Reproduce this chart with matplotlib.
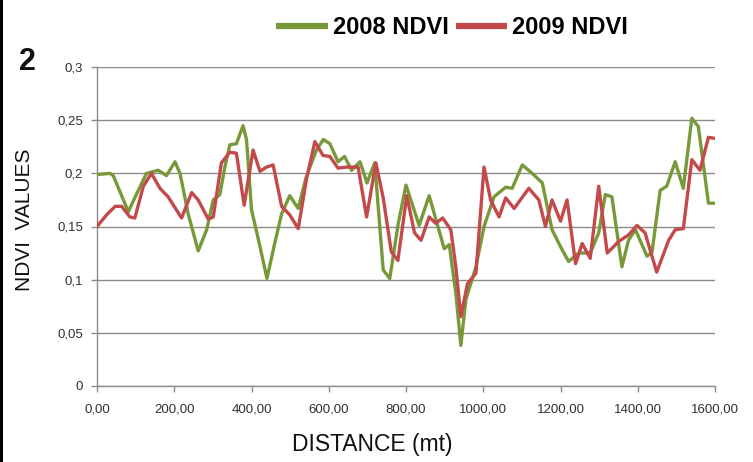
import matplotlib
matplotlib.use("Agg")
import matplotlib.pyplot as plt
from matplotlib.patches import Rectangle
from matplotlib.lines import Line2D
from matplotlib.ticker import FuncFormatter

# 2008 NDVI (distance in m, NDVI value)
dist_2008 = [0, 34, 42, 81, 103, 128, 158, 180, 202, 215, 236, 262, 284, 301, 318, 331,
             344, 361, 378, 387, 400, 422, 440, 460, 478, 499, 521, 542, 568, 586, 603,
             624, 641, 659, 681, 699, 719, 741, 758, 780, 800, 834, 860, 899, 912, 929,
             942, 955, 981, 1002, 1028, 1058, 1075, 1101, 1127, 1153, 1178, 1200, 1221,
             1247, 1277, 1299, 1316, 1333, 1359, 1376, 1394, 1424, 1437, 1458, 1475,
             1497, 1518, 1540, 1557, 1583, 1600]
ndvi_2008 = [0.199, 0.200, 0.198, 0.164, 0.181, 0.200, 0.203, 0.198, 0.211, 0.200, 0.162,
             0.127, 0.147, 0.175, 0.180, 0.206, 0.227, 0.228, 0.245, 0.232, 0.166, 0.131,
             0.101, 0.134, 0.162, 0.179, 0.167, 0.197, 0.222, 0.232, 0.228, 0.211, 0.216,
             0.203, 0.211, 0.191, 0.210, 0.109, 0.101, 0.153, 0.189, 0.151, 0.179, 0.129,
             0.133, 0.087, 0.038, 0.081, 0.112, 0.150, 0.178, 0.187, 0.186, 0.208, 0.200,
             0.191, 0.147, 0.131, 0.117, 0.125, 0.125, 0.144, 0.180, 0.178, 0.112, 0.137,
             0.147, 0.122, 0.126, 0.184, 0.188, 0.211, 0.186, 0.252, 0.244, 0.172, 0.172]

# 2009 NDVI
dist_2009 = [0, 25, 47, 64, 85, 98, 120, 141, 163, 184, 219, 245, 262, 288, 301, 322, 344,
             361, 381, 404, 422, 439, 456, 478, 499, 521, 542, 564, 585, 603, 624, 646,
             676, 698, 722, 741, 762, 779, 802, 822, 839, 860, 877, 895, 916, 929, 942,
             959, 981, 1002, 1019, 1041, 1058, 1080, 1118, 1144, 1161, 1178, 1200, 1217,
             1239, 1256, 1277, 1299, 1321, 1351, 1376, 1398, 1419, 1449, 1480, 1497,
             1518, 1540, 1561, 1583, 1600]
ndvi_2009 = [0.150, 0.161, 0.169, 0.169, 0.159, 0.158, 0.188, 0.200, 0.186, 0.178, 0.158,
             0.182, 0.175, 0.157, 0.159, 0.210, 0.220, 0.219, 0.170, 0.222, 0.202, 0.206,
             0.208, 0.169, 0.161, 0.148, 0.194, 0.230, 0.217, 0.216, 0.205, 0.206, 0.206,
             0.159, 0.210, 0.177, 0.126, 0.118, 0.179, 0.144, 0.137, 0.159, 0.153, 0.158,
             0.147, 0.112, 0.065, 0.096, 0.106, 0.206, 0.175, 0.159, 0.177, 0.167, 0.186,
             0.175, 0.150, 0.175, 0.155, 0.175, 0.115, 0.134, 0.120, 0.188, 0.125, 0.136,
             0.142, 0.151, 0.144, 0.107, 0.137, 0.147, 0.148, 0.213, 0.203, 0.234, 0.233]

series_labels = ["2008 NDVI", "2009 NDVI"]
x_ticks = [0, 200, 400, 600, 800, 1000, 1200, 1400, 1600]
y_ticks = [0, 0.05, 0.1, 0.15, 0.2, 0.25, 0.3]

GREEN = "#77993a"
RED = "#c4494b"
W, H = 753, 462

fig = plt.figure(figsize=(W / 100, H / 100), dpi=100)
fig.patch.set_facecolor("white")
ax = fig.add_axes([97 / W, 1 - 385.7 / H, (715 - 97) / W, (385.7 - 67.3) / H])

l1, = ax.plot(dist_2008, ndvi_2008, color=GREEN, lw=2.4, solid_joinstyle="round",
              solid_capstyle="round", zorder=3)
l2, = ax.plot(dist_2009, ndvi_2009, color=RED, lw=2.4, solid_joinstyle="round",
              solid_capstyle="round", zorder=4)

ax.set_xlim(0, 1600)
ax.set_ylim(0, 0.3)
ax.set_xticks(x_ticks)
ax.set_yticks(y_ticks)

def fmt_x(v, pos):
    return f"{v:.2f}".replace(".", ",")

def fmt_y(v, pos):
    if abs(v) < 1e-9:
        return "0"
    s = f"{v:.2f}".rstrip("0")
    return s.replace(".", ",")

ax.xaxis.set_major_formatter(FuncFormatter(fmt_x))
ax.yaxis.set_major_formatter(FuncFormatter(fmt_y))

ax.grid(axis="y", color="#8c8c8c", lw=1.0, zorder=0)
ax.set_axisbelow(True)
for s in ["top", "right"]:
    ax.spines[s].set_visible(False)
for s in ["left", "bottom"]:
    ax.spines[s].set_color("#8c8c8c")
    ax.spines[s].set_linewidth(1.0)

ax.tick_params(axis="both", colors="#8c8c8c", length=4, width=1.0, direction="out",
               labelcolor="#303030", labelsize=9.5)
ax.tick_params(axis="x", pad=9)
ax.tick_params(axis="y", pad=6)
for lab in ax.get_xticklabels() + ax.get_yticklabels():
    lab.set_fontfamily("Liberation Sans")

# Axis titles
fig.text(372 / W, 1 - 445 / H, "DISTANCE (mt)", ha="center", va="center",
         fontsize=16.5, family="Liberation Sans", color="#111111")
fig.text(25 / W, 1 - 220 / H, "NDVI  VALUES", ha="center", va="center", rotation=90,
         fontsize=15, family="Liberation Sans", color="#111111")

# Panel label
fig.text(27 / W, 1 - 62 / H, "2", ha="center", va="center", fontsize=22,
         fontweight="bold", family="Liberation Sans", color="#111111")

# Legend (top, horizontal)
leg = fig.legend([l1, l2], series_labels, loc="center", bbox_to_anchor=(452 / W, 1 - 28 / H),
                 ncol=2, frameon=False, handlelength=2.2, handletextpad=0.2,
                 columnspacing=0.3, prop={"family": "Liberation Sans", "weight": "bold",
                                          "size": 17})
for h in leg.get_lines():
    h.set_linewidth(4.5)
    h.set_solid_capstyle("butt")

# Black border at left edge
fig.patches.append(Rectangle((0, 0), 3 / W, 1, transform=fig.transFigure,
                             facecolor="black", edgecolor="none", zorder=10))

fig.savefig("out.png", dpi=100, facecolor="white")
